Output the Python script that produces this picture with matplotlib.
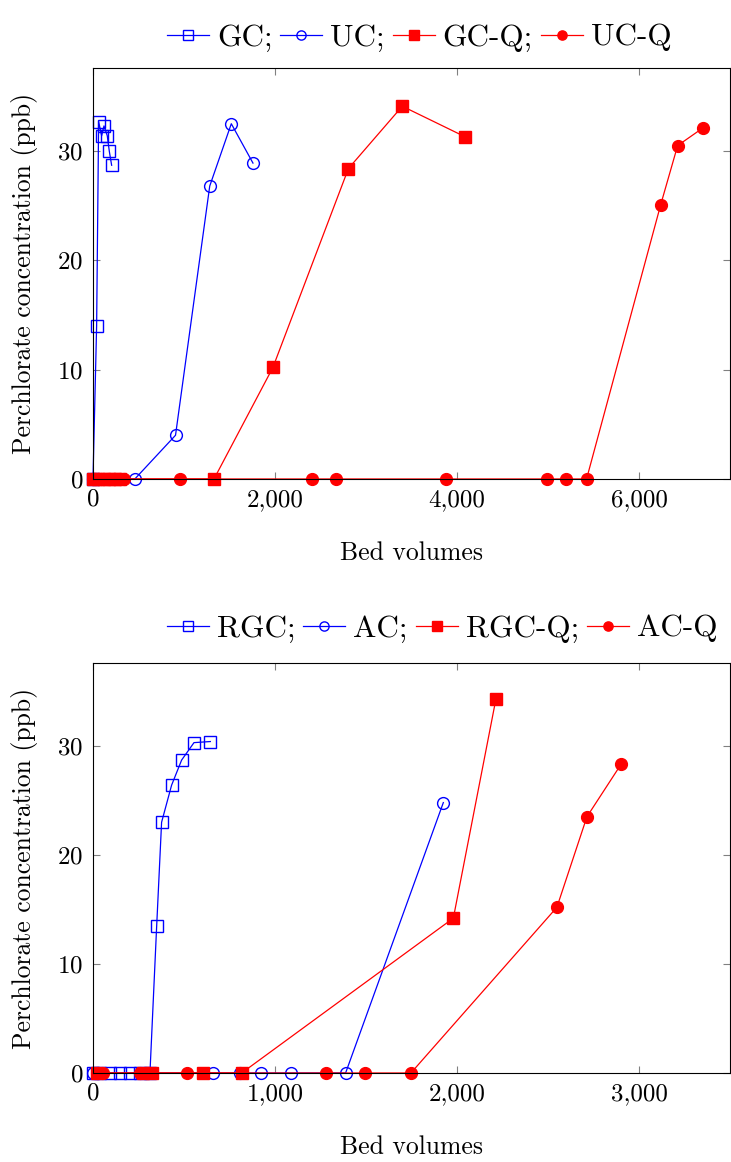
import matplotlib
matplotlib.use('Agg')
import matplotlib.pyplot as plt
from matplotlib.ticker import FuncFormatter

plt.rcParams['font.family'] = ['cmr10', 'DejaVu Serif']
plt.rcParams['mathtext.fontset'] = 'cm'
plt.rcParams['axes.unicode_minus'] = False
plt.rcParams['axes.formatter.use_mathtext'] = True

# --- top panel data ---
gc_x = [0, 40, 62, 95, 121, 157, 179, 205]
gc_y = [0, 14.0, 32.7, 31.4, 32.3, 31.4, 30.0, 28.7]
uc_x = [0, 460, 907, 1283, 1520, 1758]
uc_y = [0, 0, 4.0, 26.8, 32.5, 28.9]
gcq_x = [0, 60, 120, 180, 240, 300, 1330, 1977, 2807, 3399, 4090]
gcq_y = [0, 0, 0, 0, 0, 0, 0, 10.2, 28.4, 34.1, 31.3]
ucq_x = [20, 90, 160, 230, 300, 340, 954, 2409, 2672, 3882, 4985, 5201, 5424, 6239, 6425, 6700]
ucq_y = [0, 0, 0, 0, 0, 0, 0, 0, 0, 0, 0, 0, 0, 25.1, 30.5, 32.1]

# --- bottom panel data ---
rgc_x = [0, 38, 93, 148, 203, 258, 313, 350, 377, 432, 487, 555, 645]
rgc_y = [0, 0, 0, 0, 0, 0, 0, 13.5, 23.0, 26.4, 28.7, 30.3, 30.4]
ac_x = [0, 30, 661, 810, 921, 1086, 1388, 1925]
ac_y = [0, 0, 0, 0, 0, 0, 0, 24.8]
rgcq_x = [20, 275, 322, 606, 817, 1980, 2214]
rgcq_y = [0, 0, 0, 0, 0, 14.2, 34.3]
acq_x = [20, 57, 258, 518, 1279, 1495, 1747, 2549, 2714, 2901]
acq_y = [0, 0, 0, 0, 0, 0, 0, 15.2, 23.5, 28.3]

BLUE = '#0000ff'
RED = '#ff0000'

fig = plt.figure(figsize=(7.31, 11.62), dpi=100)
ax1 = fig.add_axes([0.1272, 0.5878, 0.8714, 0.3537])
ax2 = fig.add_axes([0.1272, 0.0766, 0.8714, 0.3528])


def draw(ax, series, labels, xmax, xticks, leg_y):
    styles = [
        dict(color=BLUE, marker='s', mfc='none', mec=BLUE),
        dict(color=BLUE, marker='o', mfc='none', mec=BLUE),
        dict(color=RED, marker='s', mfc=RED, mec=RED),
        dict(color=RED, marker='o', mfc=RED, mec=RED),
    ]
    for (x, y), lab, st in zip(series, labels, styles):
        ax.plot(x, y, lw=0.9, ms=8.5, mew=1.0, label=lab, clip_on=False, **st)
    ax.set_xlim(0, xmax)
    ax.set_ylim(0, 37.6)
    ax.set_xticks(xticks)
    ax.set_yticks([0, 10, 20, 30])
    ax.xaxis.set_major_formatter(FuncFormatter(lambda v, p: f'{v:,.0f}'))
    ax.tick_params(direction='in', top=True, right=True, length=5,
                   color='#808080', labelsize=18, pad=7)
    for s in ax.spines.values():
        s.set_linewidth(0.8)
    ax.set_xlabel('Bed volumes', fontsize=18.5, labelpad=22)
    ax.set_ylabel('Perchlorate concentration (ppb)', fontsize=18.5, labelpad=14)
    ax.legend(loc='lower left', bbox_to_anchor=(0.116, leg_y), ncol=4,
              frameon=False, fontsize=22.5, handlelength=1.35,
              handletextpad=0.25, columnspacing=0.25, borderpad=0,
              borderaxespad=0, markerscale=0.78)


draw(ax1, [(gc_x, gc_y), (uc_x, uc_y), (gcq_x, gcq_y), (ucq_x, ucq_y)],
     ['GC;', 'UC;', 'GC-Q;', 'UC-Q'], 7000, [0, 2000, 4000, 6000], 1.04)
draw(ax2, [(rgc_x, rgc_y), (ac_x, ac_y), (rgcq_x, rgcq_y), (acq_x, acq_y)],
     ['RGC;', 'AC;', 'RGC-Q;', 'AC-Q'], 3500, [0, 1000, 2000, 3000], 1.05)

fig.savefig('out.png', dpi=100)
